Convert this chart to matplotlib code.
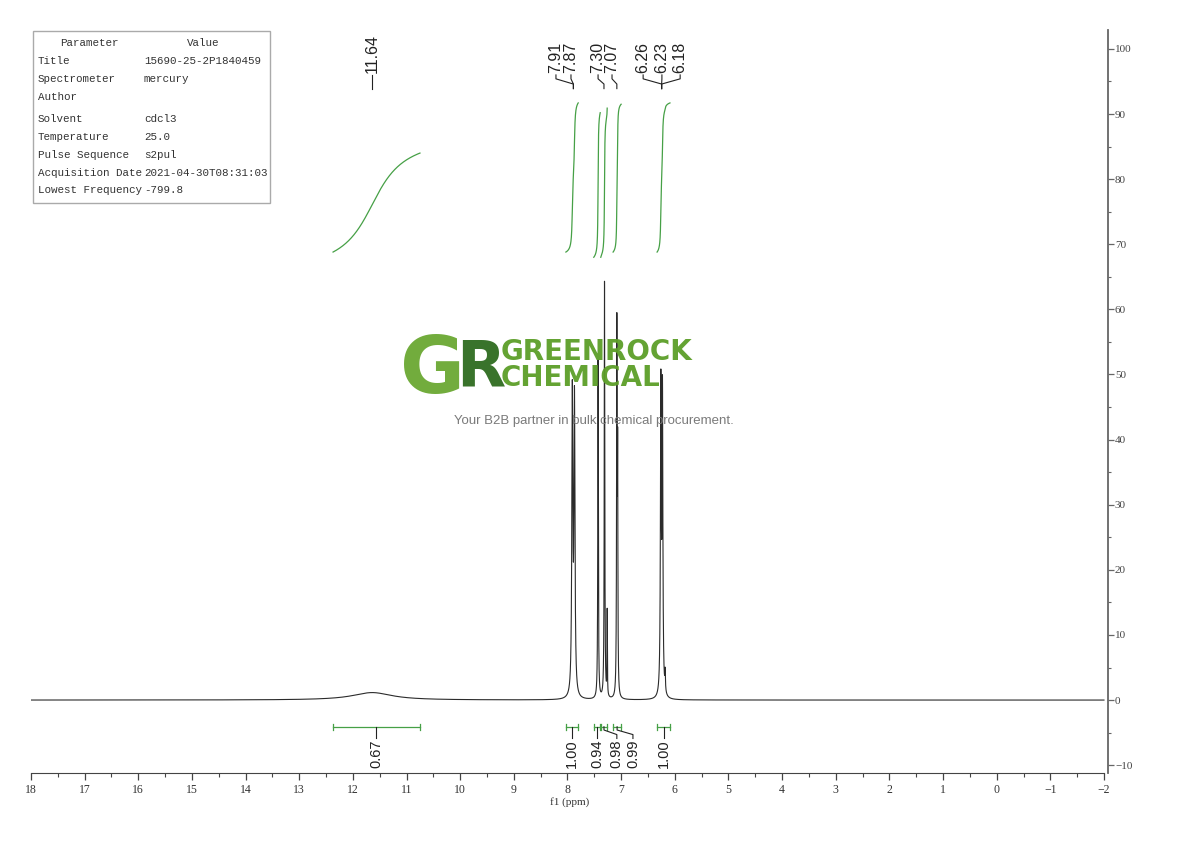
import numpy as np
import matplotlib
matplotlib.use('Agg')
import matplotlib.pyplot as plt
from matplotlib.patches import Rectangle

# Peak list (ppm, height, half width)
peak_ppm = [11.64, 7.91, 7.87, 7.43, 7.31, 7.26, 7.08, 7.065, 6.26, 6.23, 6.18]
peak_height = [1.15, 46.0, 45.0, 52.0, 64.0, 13.0, 56.0, 34.0, 47.0, 46.0, 3.0]
peak_hw = [0.45, 0.011, 0.011, 0.006, 0.006, 0.004, 0.006, 0.005, 0.009, 0.009, 0.006]

# Peak labels at the top (label, peak it points at, text position in ppm)
label_ppm = [11.64, 7.91, 7.87, 7.30, 7.07, 6.26, 6.23, 6.18]
label_peak = [11.64, 7.89, 7.89, 7.32, 7.08, 6.245, 6.245, 6.245]
label_text_x = [11.64, 8.215, 7.935, 7.43, 7.17, 6.59, 6.24, 5.90]

# Integrals: start, end (ppm), curve bottom/top, value, label position
int_start = [12.37, 8.03, 7.51, 7.38, 7.15, 6.33]
int_end = [10.75, 7.80, 7.39, 7.26, 7.00, 6.09]
int_ybot = [68.8, 68.8, 68.0, 68.0, 68.8, 68.8]
int_ytop = [84.0, 91.7, 90.2, 90.9, 91.5, 91.7]
int_value = ['0.67', '1.00', '0.94', '0.98', '0.99', '1.00']
int_label_x = [11.56, 7.915, 7.45, 7.08, 6.78, 6.21]

# Parameter table
param_names = ['Title', 'Spectrometer', 'Author', 'Solvent', 'Temperature',
               'Pulse Sequence', 'Acquisition Date', 'Lowest Frequency']
param_values = ['15690-25-2P1840459', 'mercury', '', 'cdcl3', '25.0',
                's2pul', '2021-04-30T08:31:03', '-799.8']
param_rows_px = [61, 79, 97, 119, 137, 155, 173, 190]

W, H = 1190, 841
fig = plt.figure(figsize=(W / 100, H / 100), dpi=100)
ax = fig.add_axes([31 / W, (H - 773) / H, (1108 - 31) / W, (773 - 30) / H])
ax.set_xlim(18, -2.075)
ax.set_ylim(-11.2, 102.9)

ppm = np.linspace(18, -2, 60001)
spec = np.zeros_like(ppm)
for p, h, w in zip(peak_ppm, peak_height, peak_hw):
    spec += h / (1 + ((ppm - p) / w) ** 2)
ax.plot(ppm, spec, color='#2b2b2b', lw=0.8, zorder=3)

green = '#46a046'
# integral curves and brackets
for s, e, yb, yt, v, lx in zip(int_start, int_end, int_ybot, int_ytop, int_value, int_label_x):
    m = (ppm <= s) & (ppm >= e)
    cum = np.cumsum(spec[m])
    cum = (cum - cum[0]) / (cum[-1] - cum[0])
    ax.plot(ppm[m], yb + cum * (yt - yb), color=green, lw=0.9, zorder=2)
    yb_br = -4.1
    ax.plot([s, e], [yb_br, yb_br], color=green, lw=0.9)
    ax.plot([s, s], [yb_br - 0.45, yb_br + 0.45], color=green, lw=0.9)
    ax.plot([e, e], [yb_br - 0.45, yb_br + 0.45], color=green, lw=0.9)
    xc = (s + e) / 2
    ax.plot([xc, xc, lx, lx], [yb_br, -4.6, -5.3, -5.9], color='#222', lw=0.8)
    ax.text(lx, -6.0, v, rotation=90, ha='center', va='top', fontsize=10.5,
            family='Liberation Sans', color='#222')

# peak labels
for lab, pk, tx in zip(label_ppm, label_peak, label_text_x):
    ax.plot([tx, tx, pk, pk], [96.0, 95.4, 94.6, 93.9], color='#222', lw=0.8)
    ax.text(tx, 96.3, '%.2f' % lab, rotation=90, ha='center', va='bottom',
            fontsize=11.5, family='Liberation Sans', color='#222')

# axes styling
for sp in ['top', 'left']:
    ax.spines[sp].set_visible(False)
ax.spines['bottom'].set_bounds(18, -2)
ax.spines['bottom'].set_color('#444')
ax.spines['right'].set_color('#666')
ax.spines['right'].set_linewidth(1.3)
ax.set_xticks(np.arange(18, -3, -1))
ax.set_xticks(np.arange(18, -2.5, -0.5), minor=True)
ax.set_xticklabels([str(t).replace('-', '\u2212') for t in range(18, -3, -1)])
ax.yaxis.tick_right()
ax.set_yticks(np.arange(-10, 101, 10))
ax.set_yticks(np.arange(-10, 101, 5), minor=True)
ax.tick_params(axis='x', which='major', length=5, width=0.9, color='#444', pad=3,
               labelsize=8.5, labelcolor='#333')
ax.tick_params(axis='x', which='minor', length=3, width=0.8, color='#444')
ax.tick_params(axis='y', which='major', length=4, width=0.9, color='#666', pad=1,
               labelsize=8, labelcolor='#444')
ax.tick_params(axis='y', which='minor', length=2.5, width=0.8, color='#666')
for t in ax.get_xticklabels() + ax.get_yticklabels():
    t.set_family('Liberation Serif')
ax.set_xlabel('f1 (ppm)', family='Liberation Serif', fontsize=8, color='#333', labelpad=1)

# parameter table
fig.add_artist(Rectangle((33 / W, 1 - 203 / H), (270 - 33) / W, (203 - 31) / H,
                         transform=fig.transFigure, fill=False, ec='#aaaaaa', lw=1))
tkw = dict(family='Liberation Mono', fontsize=7.8, color='#333', va='center')
fig.text(89 / W, 1 - 43 / H, 'Parameter', ha='center', **tkw)
fig.text(203 / W, 1 - 43 / H, 'Value', ha='center', **tkw)
for n, v, r in zip(param_names, param_values, param_rows_px):
    fig.text(38 / W, 1 - r / H, n, ha='left', **tkw)
    fig.text(144 / W, 1 - r / H, v, ha='left', **tkw)

# watermark logo
fig.text(433 / W, 1 - 371 / H, 'G', fontsize=57, weight='bold', color='#6aa832',
         ha='center', va='center', family='DejaVu Sans', alpha=0.95)
fig.text(481 / W, 1 - 368 / H, 'R', fontsize=46, weight='bold', color='#2e6b1f',
         ha='center', va='center', family='DejaVu Sans', alpha=0.95)
fig.text(501 / W, 1 - 365 / H, 'GREENROCK\nCHEMICAL', fontsize=20, weight='bold',
         color='#5c9e28', ha='left', va='center', family='DejaVu Sans',
         linespacing=0.95, alpha=0.95)
fig.text(594 / W, 1 - 421 / H, 'Your B2B partner in bulk chemical procurement.',
         fontsize=9.5, color='#7a7a7a', ha='center', va='center', family='Liberation Sans')

fig.savefig('out.png', dpi=100)
